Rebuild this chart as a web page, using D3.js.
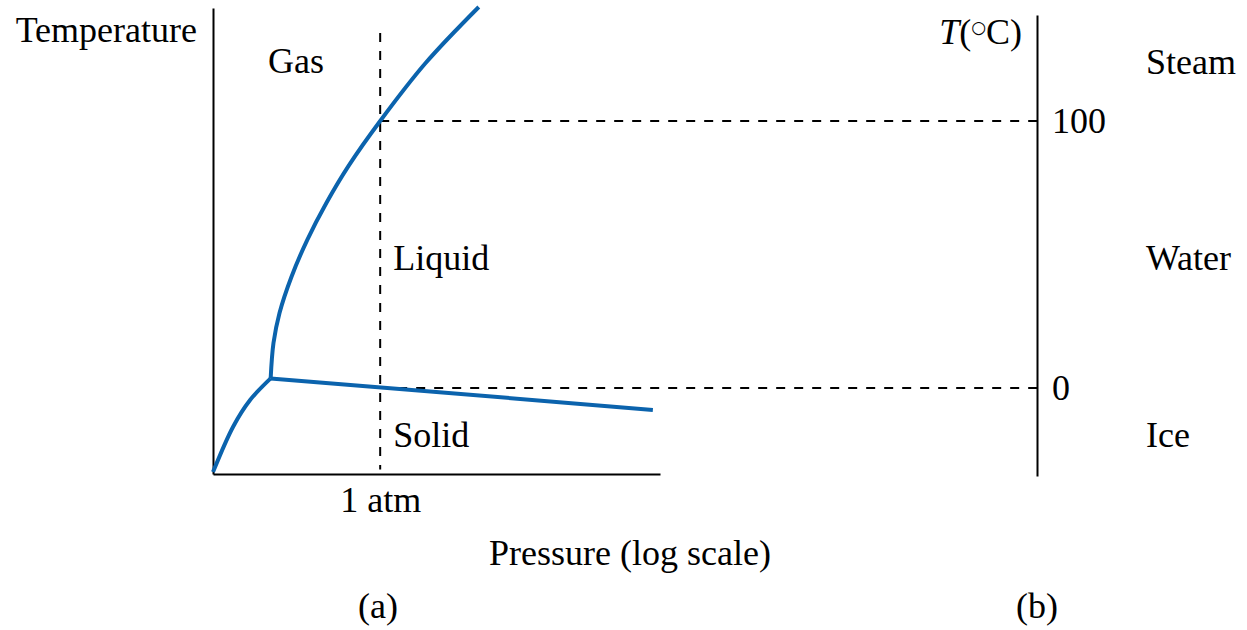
<!DOCTYPE html>
<html>
<head>
<meta charset="utf-8">
<script src="https://cdn.jsdelivr.net/npm/d3@7"></script>
<style>
  html, body { margin: 0; padding: 0; background: #fff; }
  svg text { font-family: "Liberation Serif", "Times New Roman", serif; fill: #000; }
</style>
</head>
<body>
<svg id="chart" width="1247" height="630"></svg>
<script>
// ---- Data (schematic phase diagram of water; x = log pressure units, y = temperature °C) ----
const oneAtm = 37.4;
const sublimationCurve = [
  [0.0, -31.5], [4.5, -14.5], [8.3, -4.5], [12.9, 3.6]
];
const vaporizationCurve = [
  [12.9, 3.6], [13.53, 16.85], [14.88, 28.1], [17.54, 41.6], [21.07, 55.4],
  [25.36, 69.3], [30.33, 83.2], [37.4, 100.0], [47.56, 121.7], [59.46, 142.7]
];
const fusionCurve = [
  [12.9, 3.6], [98.4, -8.2]
];
const phaseLabels = ["Gas", "Liquid", "Solid"];
const phaseLabelPos = [[12.3, 118], [40.3, 44.2], [40.3, -22.1]];
const waterStates = ["Steam", "Water", "Ice"];
const waterStateTemps = [117.6, 44.2, -22.1];
const tempTicks = [0, 100];
const pressureTickLabels = ["1 atm"];

// ---- Scales ----
const svg = d3.select("#chart");
const x = d3.scaleLinear().domain([0, 100]).range([213, 660]);
const y = d3.scaleLinear().domain([0, 100]).range([388, 121]);
const yRight = d3.scaleLinear().domain([y.invert(476), y.invert(15)]).range([476, 15]);
const yLeft = d3.scaleLinear().domain([y.invert(474), y.invert(8)]).range([474, 8]);
const FS = 36;
const blue = "#0b63ad";

// ---- Dashed reference lines ----
const dash = "9,9";
svg.append("line")
  .attr("x1", x(oneAtm)).attr("x2", x(oneAtm))
  .attr("y1", y(133)).attr("y2", y(-30.5))
  .attr("stroke", "#000").attr("stroke-width", 2).attr("stroke-dasharray", dash);
tempTicks.forEach(t => {
  svg.append("line")
    .attr("x1", x(oneAtm)).attr("x2", 1037)
    .attr("y1", y(t)).attr("y2", y(t))
    .attr("stroke", "#000").attr("stroke-width", 2).attr("stroke-dasharray", dash);
});

// ---- Axes (a) ----
const gL = svg.append("g").attr("transform", `translate(${x(0)},0)`)
  .call(d3.axisLeft(yLeft).tickValues([]).tickSizeOuter(0));
const gB = svg.append("g").attr("transform", `translate(0,${yLeft(yLeft.domain()[0])})`)
  .call(d3.axisBottom(x).tickValues([oneAtm]).tickSize(0).tickPadding(12)
    .tickFormat((d, i) => pressureTickLabels[i]));
[gL, gB].forEach(g => {
  g.select(".domain").attr("stroke", "#000").attr("stroke-width", 2);
  g.selectAll("text").style("font-size", FS + "px").attr("font-family", null);
});

// ---- Axis (b) ----
const gR = svg.append("g").attr("transform", "translate(1037,0)")
  .call(d3.axisRight(yRight).tickValues(tempTicks).tickSize(0).tickPadding(15));
gR.select(".domain").attr("stroke", "#000").attr("stroke-width", 2);
gR.selectAll("text").style("font-size", FS + "px").attr("font-family", null);

// ---- Curves ----
const line = d3.line().x(d => x(d[0])).y(d => y(d[1])).curve(d3.curveCatmullRom.alpha(0.5));
[sublimationCurve, vaporizationCurve, fusionCurve].forEach(c => {
  svg.append("path").attr("d", line(c))
    .attr("fill", "none").attr("stroke", blue).attr("stroke-width", 4)
    .attr("stroke-linejoin", "round").attr("stroke-linecap", "butt");
});

// ---- Phase labels ----
phaseLabels.forEach((t, i) => {
  svg.append("text").attr("x", x(phaseLabelPos[i][0])).attr("y", y(phaseLabelPos[i][1]))
    .style("font-size", FS + "px").text(t);
});
waterStates.forEach((t, i) => {
  svg.append("text").attr("x", 1146).attr("y", y(waterStateTemps[i]))
    .style("font-size", FS + "px").text(t);
});

// ---- Titles ----
svg.append("text").attr("x", 197).attr("y", 42).attr("text-anchor", "end")
  .style("font-size", FS + "px").text("Temperature");
const tl = svg.append("text").attr("x", 1022).attr("y", 44).attr("text-anchor", "end")
  .style("font-size", FS + "px");
tl.append("tspan").attr("font-style", "italic").text("T");
tl.append("tspan").text("(");
tl.append("tspan").attr("dy", -11).style("font-size", "17px")
  .style("font-family", "'DejaVu Sans'").text("\u25CB");
tl.append("tspan").attr("dy", 11).text("C)");
svg.append("text").attr("x", 630).attr("y", 565).attr("text-anchor", "middle")
  .style("font-size", FS + "px").text("Pressure (log scale)");
svg.append("text").attr("x", 378).attr("y", 618).attr("text-anchor", "middle")
  .style("font-size", FS + "px").text("(a)");
svg.append("text").attr("x", 1037).attr("y", 618).attr("text-anchor", "middle")
  .style("font-size", FS + "px").text("(b)");
</script>
</body>
</html>
